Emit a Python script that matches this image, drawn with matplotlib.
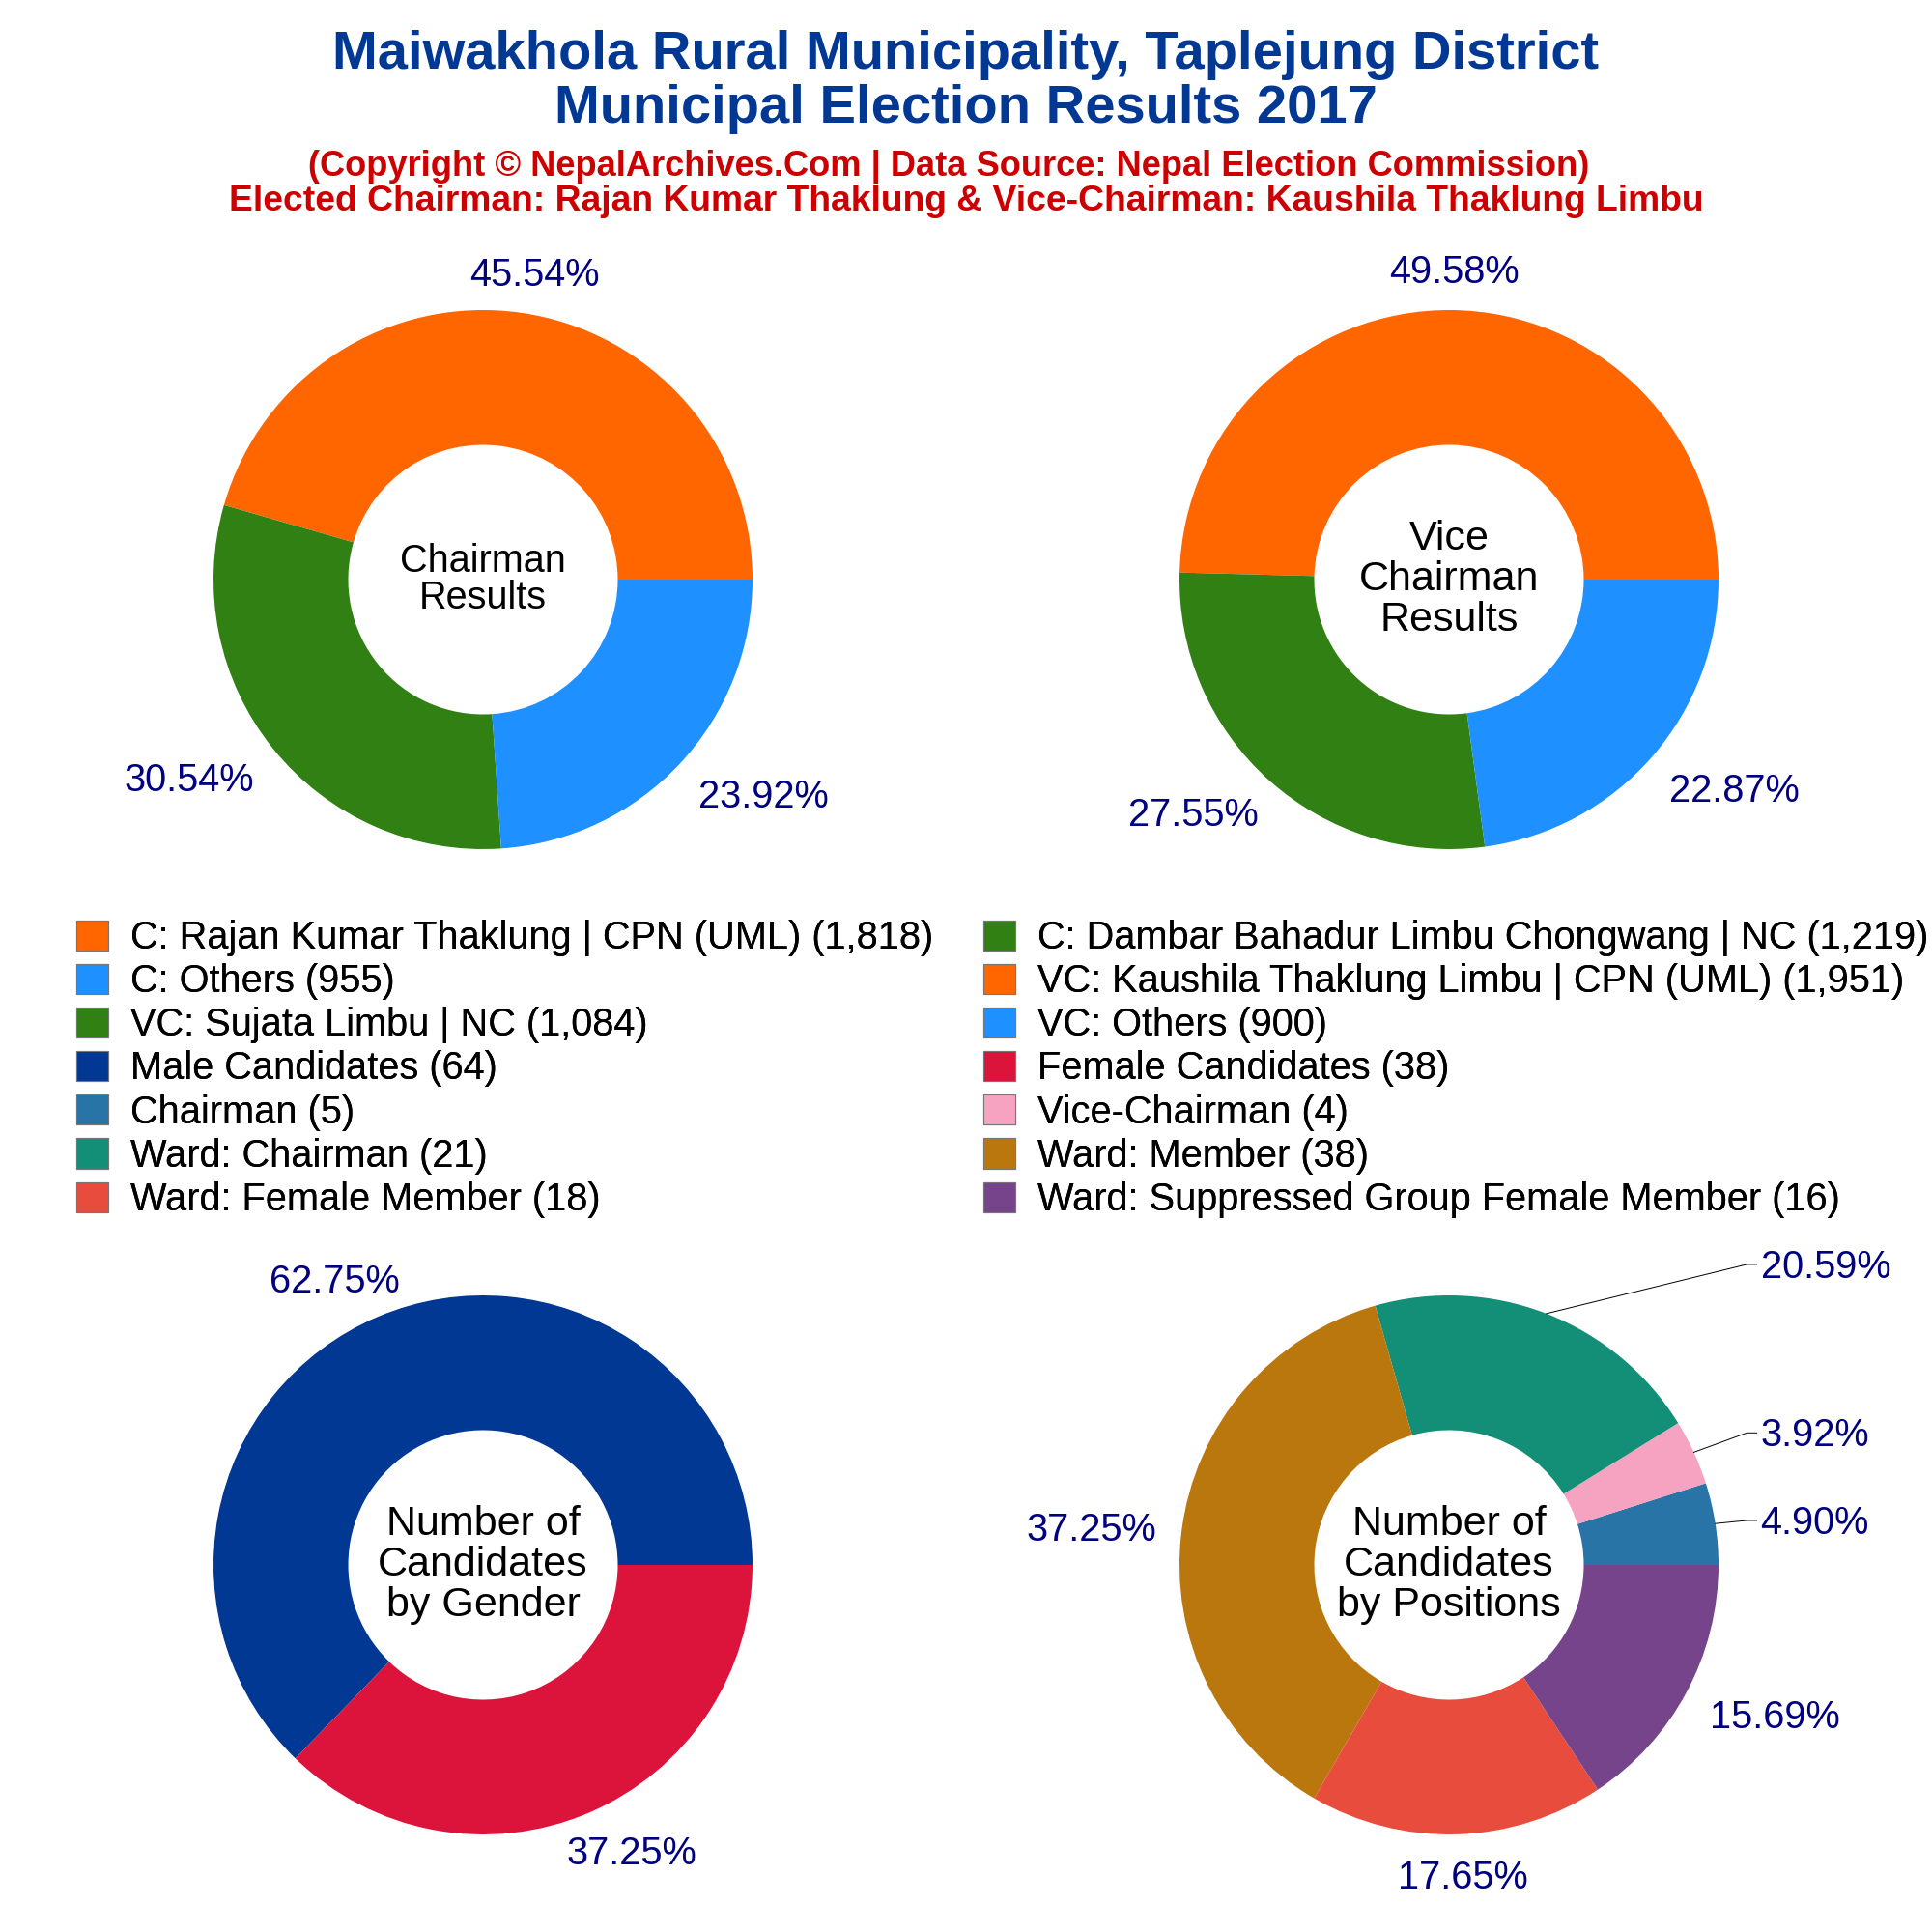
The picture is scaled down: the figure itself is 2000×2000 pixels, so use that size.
import numpy as np
import matplotlib
matplotlib.use("Agg")
import matplotlib.pyplot as plt
from matplotlib.patches import Patch

plt.rcParams['font.family'] = ['Liberation Sans', 'DejaVu Sans']

# data
chairman_names = ['C: Rajan Kumar Thaklung | CPN (UML)', 'C: Dambar Bahadur Limbu Chongwang | NC', 'C: Others']
chairman_votes = [1818, 1219, 955]
vice_names = ['VC: Kaushila Thaklung Limbu | CPN (UML)', 'VC: Sujata Limbu | NC', 'VC: Others']
vice_votes = [1951, 1084, 900]
gender_names = ['Male Candidates', 'Female Candidates']
gender_counts = [64, 38]
position_names = ['Chairman', 'Vice-Chairman', 'Ward: Chairman', 'Ward: Member',
                  'Ward: Female Member', 'Ward: Suppressed Group Female Member']
position_counts = [5, 4, 21, 38, 18, 16]

ORANGE, BLUE, GREEN = '#FF6600', '#1E90FF', '#308014'
chairman_colors = [ORANGE, GREEN, BLUE]
vice_colors = [ORANGE, GREEN, BLUE]
gender_colors = ['#003893', '#DC143C']
position_colors = ['#2874A6', '#F5A3C0', '#148F77', '#B9770E', '#E74C3C', '#76448A']

# label centres, in units of pie radius
chairman_labels = [(0.19, 1.13), (-1.09, -0.745), (1.04, -0.805)]
vice_labels = [(0.02, 1.14), (-0.95, -0.875), (1.06, -0.785)]
gender_labels = [(-0.55, 1.05), (0.55, -1.07)]
position_labels = [(1.156, 0.155), (1.156, 0.48), (1.156, 1.105),
                   (-1.326, 0.13), (0.05, -1.16), (1.21, -0.565)]

W = 2000
R = 279
TXT = 28.6
NAVY = '#000080'


def add_donut(cx, cy, values, colors, label_xy, center_lines, center_size, center_gap, center_shift=0.0, leaders=0):
    ax = fig.add_axes([(cx - R) / W, 1 - (cy + R) / W, 2 * R / W, 2 * R / W])
    ax.pie(values, colors=colors, startangle=0, counterclock=True, radius=1,
           wedgeprops=dict(width=0.5, linewidth=0))
    ax.set_xlim(-1, 1)
    ax.set_ylim(-1, 1)
    ax.axis('off')

    total = sum(values)
    fractions = np.array(values) / total
    mids = (np.cumsum(fractions) - fractions / 2) * 2 * np.pi
    for i, (frac, (x, y)) in enumerate(zip(fractions, label_xy)):
        if i < leaders:
            # small slices get a leader line and a left aligned label
            ax.plot([np.cos(mids[i]), x - 0.051, x - 0.014], [np.sin(mids[i]), y + 0.01, y + 0.01],
                    color='black', lw=0.7, clip_on=False)
            ax.text(x, y, f'{frac * 100:.2f}%', color=NAVY, fontsize=TXT, ha='left', va='center', clip_on=False)
        else:
            ax.text(x, y, f'{frac * 100:.2f}%', color=NAVY, fontsize=TXT, ha='center', va='center', clip_on=False)

    n = len(center_lines)
    for i, line in enumerate(center_lines):
        ax.text(0, ((n - 1) / 2 - i) * center_gap + center_shift, line,
                fontsize=center_size, ha='center', va='center', color='black')
    return ax


fig = plt.figure(figsize=(20, 20), dpi=100, facecolor='white')

# titles
title_color = '#003893'
sub_color = '#CC0000'
fig.text(0.5, 1 - 57 / W, 'Maiwakhola Rural Municipality, Taplejung District', color=title_color,
         fontsize=40.4, fontweight='bold', ha='center', va='center')
fig.text(0.5, 1 - 113 / W, 'Municipal Election Results 2017', color=title_color,
         fontsize=40.4, fontweight='bold', ha='center', va='center')
fig.text(982 / W, 1 - 172 / W, '(Copyright © NepalArchives.Com | Data Source: Nepal Election Commission)',
         color=sub_color, fontsize=26.1, fontweight='bold', ha='center', va='center')
fig.text(0.5, 1 - 209 / W, 'Elected Chairman: Rajan Kumar Thaklung & Vice-Chairman: Kaushila Thaklung Limbu',
         color=sub_color, fontsize=26.8, fontweight='bold', ha='center', va='center')

add_donut(500, 600, chairman_votes, chairman_colors, chairman_labels, ['Chairman', 'Results'], 28.5, 0.138, 0.0)
add_donut(1500, 600, vice_votes, vice_colors, vice_labels, ['Vice', 'Chairman', 'Results'], 31, 0.15)
add_donut(500, 1620, gender_counts, gender_colors, gender_labels,
          ['Number of', 'Candidates', 'by Gender'], 31, 0.15)
add_donut(1500, 1620, position_counts, position_colors, position_labels,
          ['Number of', 'Candidates', 'by Positions'], 31, 0.15, leaders=3)


def item(name, value, color):
    return Patch(facecolor=color, edgecolor='#777777', linewidth=0.8, label=f'{name} ({value:,})')


col1 = [item(chairman_names[0], chairman_votes[0], ORANGE),
        item(chairman_names[2], chairman_votes[2], BLUE),
        item(vice_names[1], vice_votes[1], GREEN),
        item(gender_names[0], gender_counts[0], gender_colors[0]),
        item(position_names[0], position_counts[0], position_colors[0]),
        item(position_names[2], position_counts[2], position_colors[2]),
        item(position_names[4], position_counts[4], position_colors[4])]
col2 = [item(chairman_names[1], chairman_votes[1], GREEN),
        item(vice_names[0], vice_votes[0], ORANGE),
        item(vice_names[2], vice_votes[2], BLUE),
        item(gender_names[1], gender_counts[1], gender_colors[1]),
        item(position_names[1], position_counts[1], position_colors[1]),
        item(position_names[3], position_counts[3], position_colors[3]),
        item(position_names[5], position_counts[5], position_colors[5])]

for handles, x in [(col1, 79), (col2, 1018)]:
    leg = fig.legend(handles=handles, loc='upper left', bbox_to_anchor=(x / W, 1 - 952 / W),
                     frameon=False, fontsize=TXT, borderpad=0, borderaxespad=0,
                     handlelength=0.83, handleheight=0.83, handletextpad=0.58, labelspacing=0.18)
    fig.add_artist(leg)

fig.savefig('out.png', dpi=100)
